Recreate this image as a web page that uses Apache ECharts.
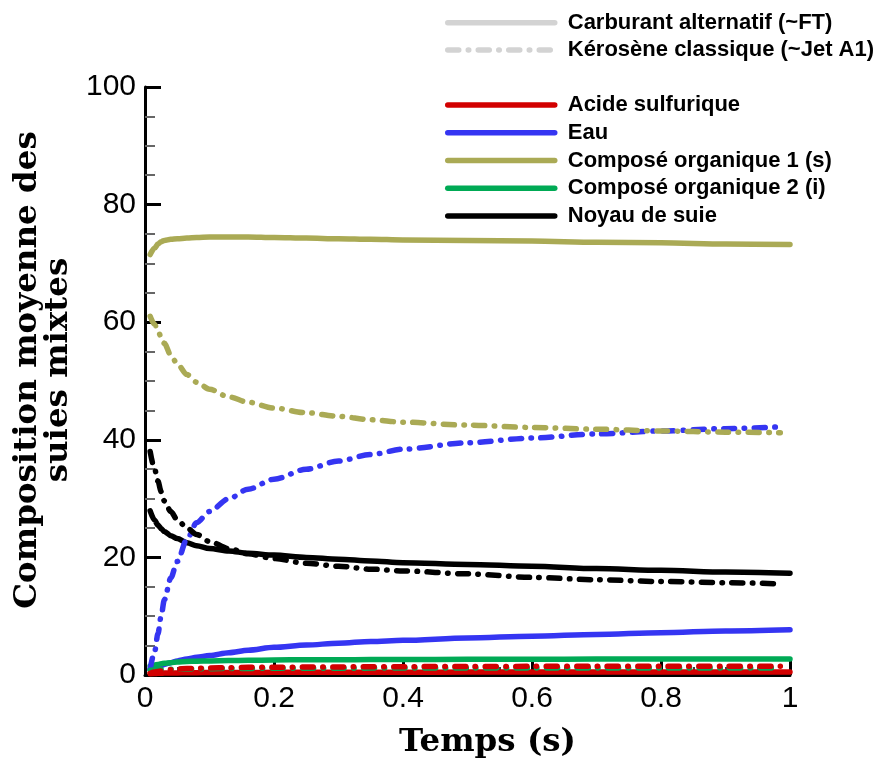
<!DOCTYPE html>
<html>
<head>
<meta charset="utf-8">
<script src="https://cdn.jsdelivr.net/npm/echarts@6/dist/echarts.min.js"></script>
<style>
html,body{margin:0;padding:0;background:#fff;}
#chart{width:884px;height:764px;}
</style>
</head>
<body>
<div id="chart"></div>
<script>
// Time grids (s)
const timeFT  = [0.008, 0.015, 0.02, 0.025, 0.03, 0.04, 0.05, 0.065, 0.08, 0.1, 0.13, 0.16, 0.2, 0.25, 0.3, 0.35, 0.4, 0.5, 0.6, 0.7, 0.8, 0.9, 1.0];
const timeJet = [0.008, 0.015, 0.02, 0.025, 0.03, 0.04, 0.05, 0.065, 0.08, 0.1, 0.13, 0.16, 0.2, 0.25, 0.3, 0.35, 0.4, 0.5, 0.6, 0.7, 0.8, 0.9, 0.985];

// Carburant alternatif (~FT) — solid lines
const ftAcide = [0.2, 0.25, 0.28, 0.3, 0.32, 0.34, 0.36, 0.38, 0.4, 0.42, 0.43, 0.44, 0.45, 0.46, 0.47, 0.48, 0.48, 0.49, 0.5, 0.5, 0.5, 0.5, 0.5];
const ftEau = [1.0, 1.3, 1.5, 1.6, 1.8, 2.1, 2.4, 2.7, 3.0, 3.3, 3.8, 4.2, 4.7, 5.1, 5.4, 5.7, 5.9, 6.3, 6.6, 6.9, 7.2, 7.5, 7.7];
const ftOrg1 = [71.5, 72.6, 73.3, 73.7, 73.9, 74.1, 74.2, 74.3, 74.4, 74.5, 74.5, 74.5, 74.4, 74.3, 74.2, 74.1, 74.0, 73.9, 73.8, 73.6, 73.5, 73.3, 73.2];
const ftOrg2 = [1.5, 1.7, 1.8, 1.9, 2.0, 2.1, 2.2, 2.3, 2.35, 2.4, 2.45, 2.5, 2.55, 2.6, 2.6, 2.62, 2.64, 2.66, 2.68, 2.7, 2.7, 2.7, 2.7];
const ftSuie = [27.9, 26.3, 25.5, 24.9, 24.4, 23.7, 23.2, 22.5, 22.0, 21.5, 21.1, 20.7, 20.4, 20.0, 19.7, 19.4, 19.1, 18.8, 18.5, 18.1, 17.8, 17.5, 17.3];

// Kérosène classique (~Jet A1) — dash-dot lines
const jetAcide = [0.3, 0.5, 0.6, 0.7, 0.8, 0.9, 1.0, 1.1, 1.15, 1.2, 1.25, 1.3, 1.32, 1.35, 1.38, 1.4, 1.42, 1.45, 1.47, 1.48, 1.5, 1.5, 1.5];
const jetEau = [1.0, 4.0, 7.0, 10.0, 12.8, 16.5, 19.3, 23.1, 25.9, 27.8, 30.0, 31.6, 33.3, 35.0, 36.4, 37.5, 38.4, 39.5, 40.3, 41.0, 41.5, 41.9, 42.2];
const jetOrg1 = [61.0, 59.6, 58.5, 57.5, 56.4, 54.4, 52.9, 51.1, 49.8, 48.6, 47.3, 46.4, 45.4, 44.6, 44.0, 43.4, 43.0, 42.5, 42.1, 41.8, 41.5, 41.3, 41.2];
const jetOrg2 = [0.8, 0.85, 0.9, 0.92, 0.95, 0.98, 1.0, 1.03, 1.05, 1.08, 1.1, 1.12, 1.14, 1.15, 1.16, 1.17, 1.18, 1.19, 1.2, 1.2, 1.2, 1.2, 1.2];
const jetSuie = [38.0, 35.0, 33.0, 31.2, 29.6, 27.8, 26.4, 25.0, 23.9, 22.7, 21.5, 20.6, 19.8, 19.0, 18.5, 18.0, 17.7, 17.2, 16.6, 16.2, 15.9, 15.7, 15.5];

const xTicks = [0, 0.2, 0.4, 0.6, 0.8, 1];
const yTicks = [0, 20, 40, 60, 80, 100];

const fuelNames = ['Carburant alternatif (~FT)', 'Kérosène classique (~Jet A1)'];
const speciesNames = ['Acide sulfurique', 'Eau', 'Composé organique 1 (s)', 'Composé organique 2 (i)', 'Noyau de suie'];
const speciesColors = ['#d20000', '#3535f2', '#aaaa55', '#00aa55', '#000000'];
const ftValues = [ftAcide, ftEau, ftOrg1, ftOrg2, ftSuie];
const jetValues = [jetAcide, jetEau, jetOrg1, jetOrg2, jetSuie];

const DASH = [11, 9.5, 0.5, 9.5];
const LW = 5.5;

function pairs(t, v) { return t.map((x, i) => [x, v[i]]); }

const series = [];
// dummy series for fuel legend
series.push({ name: fuelNames[0], type: 'line', data: [], symbol: 'none', color: '#d3d3d3',
  lineStyle: { width: LW, color: '#d3d3d3', cap: 'round' } });
series.push({ name: fuelNames[1], type: 'line', data: [], symbol: 'none', color: '#d3d3d3',
  lineStyle: { width: LW, color: '#d3d3d3', type: DASH, cap: 'round' } });

// draw order
const order = [1, 2, 4, 3, 0];
order.forEach(i => {
  series.push({ name: speciesNames[i], type: 'line', data: pairs(timeFT, ftValues[i]),
    symbol: 'none', smooth: 0.3, smoothMonotone: 'x', color: speciesColors[i], z: 2,
    lineStyle: { width: LW, color: speciesColors[i], cap: 'round', join: 'round' } });
});
order.forEach(i => {
  series.push({ name: speciesNames[i] + ' (Jet A1)', type: 'line', data: pairs(timeJet, jetValues[i]),
    symbol: 'none', smooth: 0.3, smoothMonotone: 'x', color: speciesColors[i], z: 3,
    lineStyle: { width: LW, color: speciesColors[i], type: DASH, cap: 'round', join: 'round' } });
});

const legendText = { fontFamily: 'Liberation Sans, Arial, sans-serif', fontWeight: 'bold', fontSize: 22, color: '#000', padding: [0, 0, 0, 8] };
const legendCommon = { orient: 'vertical', left: 445, itemWidth: 107, itemHeight: 14, padding: 0,
  textStyle: legendText, selectedMode: false,
  itemStyle: { opacity: 0 }, lineStyle: { width: 5.5 } };

const option = {
  animation: false,
  backgroundColor: '#fff',
  grid: { left: 145, right: 94, top: 87, bottom: 88, containLabel: false },
  legend: [
    Object.assign({ data: fuelNames, top: 11.7, itemGap: 5.3 }, legendCommon),
    Object.assign({ data: speciesNames, top: 94, itemGap: 5.75 }, legendCommon)
  ],
  xAxis: {
    type: 'value', min: 0, max: 1, interval: 0.2,
    name: 'Temps (s)', nameLocation: 'middle', nameGap: 51,
    nameTextStyle: { fontFamily: 'DejaVu Serif, serif', fontSize: 32.5, fontWeight: 'bold', color: '#000', padding: [0, 0, 0, 40] },
    axisLine: { show: true, lineStyle: { color: '#000', width: 3 } },
    axisTick: { show: true, inside: true, length: 16, lineStyle: { color: '#000', width: 3 } },
    minorTick: { show: true, splitNumber: 4, length: 8, lineStyle: { color: '#000', width: 1.5 } },
    splitLine: { show: false },
    axisLabel: { fontFamily: 'Liberation Sans, Arial, sans-serif', fontSize: 30, color: '#000', margin: 9,
      formatter: v => { const m = xTicks.find(t => Math.abs(t - v) < 1e-9); return m === undefined ? '' : String(m); } }
  },
  yAxis: {
    type: 'value', min: 0, max: 100, interval: 20,
    name: 'Composition moyenne des\nsuies mixtes', nameLocation: 'middle', nameGap: 70, nameRotate: 90,
    nameTextStyle: { fontFamily: 'DejaVu Serif, serif', fontSize: 32.5, fontWeight: 'bold', color: '#000', lineHeight: 31, padding: [0, 0, 0, 22] },
    axisLine: { show: true, lineStyle: { color: '#000', width: 3 } },
    axisTick: { show: true, inside: true, length: 16, lineStyle: { color: '#000', width: 3 } },
    minorTick: { show: true, splitNumber: 4, length: 10, lineStyle: { color: '#666', width: 2 } },
    splitLine: { show: false },
    axisLabel: { fontFamily: 'Liberation Sans, Arial, sans-serif', fontSize: 30, color: '#000', margin: 9,
      formatter: v => { const m = yTicks.find(t => t === v); return m === undefined ? '' : String(m); } }
  },
  series: series
};

const chart = echarts.init(document.getElementById('chart'), null, { renderer: 'canvas' });
chart.setOption(option);
</script>
</body>
</html>
